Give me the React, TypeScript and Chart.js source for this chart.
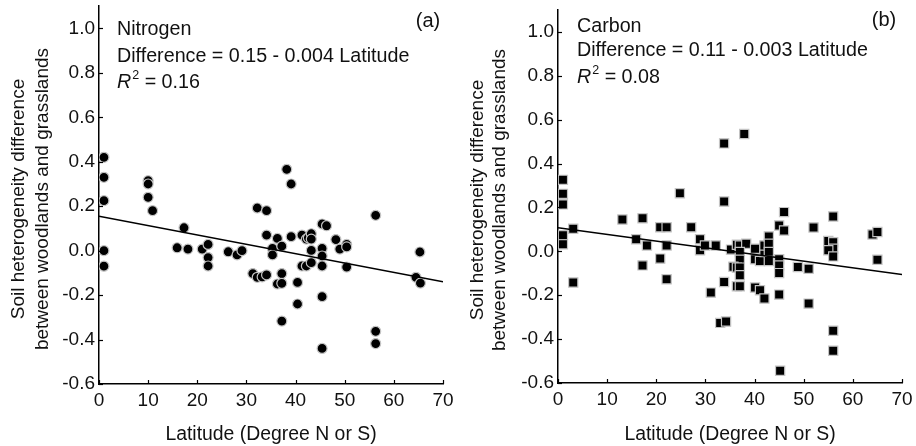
import React, { useEffect, useRef } from "react";
import { Chart, registerables } from "chart.js";

Chart.register(...registerables);

// ---------- data ----------
const X_TICKS = [0, 10, 20, 30, 40, 50, 60, 70];
const Y_TICKS = [-0.6, -0.4, -0.2, 0, 0.2, 0.4, 0.6, 0.8, 1.0];

const N_LAT = [
  1.0, 1.0, 1.0, 1.0, 1.0, 10, 10, 10, 10.9, 15.9, 17.3, 18.1, 21, 22.2, 22.2, 22.2,
  26.3, 28.1, 29.1, 31.3, 32.2, 32.2, 33.2, 34.1, 34.1, 34.1, 35.3, 35.3, 36.3, 36.3,
  37.2, 37.2, 37.2, 37.2, 38.2, 39.1, 39.1, 40.4, 40.4, 41.3, 41.3, 42.2, 42.2, 42.6,
  43.2, 43.2, 43.2, 43.2, 45.4, 46.3, 45.4, 45.4, 45.4, 45.4, 45.4, 48.2, 49, 50.4,
  50.4, 50.4, 56.3, 56.3, 56.3, 64.5, 65.3, 65.4,
];
const N_DIFF = [
  0.42, 0.33, 0.225, 0.0, -0.07, 0.315, 0.3, 0.24, 0.18, 0.013, 0.103, 0.007, 0.007, 0.028, -0.031, -0.069,
  -0.005, -0.019, 0.0, -0.103, -0.12, 0.192, -0.118, 0.18, 0.07, -0.109, 0.01, -0.019, 0.055, -0.15,
  0.02, -0.103, -0.147, -0.317, 0.366, 0.3, 0.063, -0.143, -0.24, 0.07, -0.069, -0.069, 0.052, 0.058,
  0.076, 0.052, 0.001, -0.054, 0.12, 0.112, 0.01, -0.024, -0.069, -0.207, -0.44, 0.05, 0.007, 0.028,
  0.017, -0.074, 0.159, -0.363, -0.418, -0.12, -0.006, -0.146,
];

const C_LAT = [
  1.0, 1.0, 1.0, 1.0, 1.0, 3.1, 3.1, 13.1, 15.9, 17.2, 17.2, 18.1, 20.8, 22.1, 22.1, 20.8, 22.1,
  24.8, 27.1, 28.9, 28.9, 29.9, 32.1, 31.1, 33.8, 33.8, 33.8, 33.0, 34.2, 37.9, 35.2, 36.4, 37,
  38.3, 37, 37, 35.7, 36.4, 37, 37, 36.4, 37, 40.1, 40.1, 40.1, 41.1, 42, 41.1, 42, 42, 42.9,
  42.9, 42.9, 42.9, 45, 46, 46, 45, 45, 45, 45, 45.2, 48.8, 51, 51, 52, 56, 55, 56, 56, 55, 56,
  56, 56, 64, 65, 65,
];
const C_DIFF = [
  0.326, 0.262, 0.214, 0.073, 0.032, 0.103, -0.142, 0.145, 0.055, 0.151, -0.064, 0.027, 0.11, 0.11, 0.027, -0.033, -0.127,
  0.265, 0.11, 0.055, 0.005, 0.027, 0.027, -0.188, 0.492, 0.227, -0.14, -0.326, -0.32, 0.535, 0.008, 0.03, 0.027,
  0.035, -0.003, -0.038, -0.07, -0.074, -0.074, -0.109, -0.159, -0.159, 0.012, -0.036, -0.165, -0.177, -0.215, -0.044, -0.003, 0.027, 0.068,
  0.035, -0.003, -0.044, 0.118, 0.179, 0.095, -0.036, -0.064, -0.099, -0.197, -0.544, -0.071, -0.079, -0.238, 0.109, 0.159, 0.047, 0.042, 0.012, 0.005, -0.023,
  -0.362, -0.453, 0.077, 0.088, -0.038,
];

const FIT_X = [0, 70];
const N_FIT_Y = [0.155, -0.14];
const C_FIT_Y = [0.108, -0.105];

const N_TEXT = ["Nitrogen", "Difference = 0.15 - 0.004 Latitude", "0.16", "(a)"];
const C_TEXT = ["Carbon", "Difference = 0.11 - 0.003 Latitude", "0.08", "(b)"];
const X_TITLE = "Latitude (Degree N or S)";
const Y_TITLE = ["Soil heterogeneity difference", "between woodlands and grasslands"];

// ---------- layout ----------
const FONT = '"Liberation Sans", Arial, Helvetica, sans-serif';
const W = 458;
const H = 446;

type Panel = {
  offset: number;
  plotLeft: number;
  plotRight: number;
  plotTop: number;
  plotBottom: number;
  lat: number[];
  diff: number[];
  fitY: number[];
  text: string[];
  shape: "circle" | "rect";
  radius: number;
  textX: number;
  lineY: number[];
  tagX: number;
  tagY: number;
  yTitleX: number[];
  yTitleCY: number;
};

const PANELS: Panel[] = [
  {
    offset: 0, plotLeft: 99, plotRight: 443, plotTop: 6, plotBottom: 384,
    lat: N_LAT, diff: N_DIFF, fitY: N_FIT_Y, text: N_TEXT, shape: "circle", radius: 5,
    textX: 117, lineY: [30, 57, 83], tagX: 428, tagY: 21, yTitleX: [19, 43], yTitleCY: 199,
  },
  {
    offset: 458, plotLeft: 100, plotRight: 444, plotTop: 10, plotBottom: 383,
    lat: C_LAT, diff: C_DIFF, fitY: C_FIT_Y, text: C_TEXT, shape: "rect", radius: 6.5,
    textX: 119, lineY: [27, 51, 78], tagX: 426, tagY: 20, yTitleX: [20, 42], yTitleCY: 200,
  },
];

function fmtY(v: number) {
  if (Math.abs(v) < 1e-9) return "0.0";
  return v.toFixed(1);
}

function PanelChart({ p }: { p: Panel }) {
  const ref = useRef<HTMLCanvasElement | null>(null);
  useEffect(() => {
    const canvas = ref.current;
    if (!canvas) return;
    const pts = p.lat.map((x, i) => ({ x, y: p.diff[i] }));
    const fit = FIT_X.map((x, i) => ({ x, y: p.fitY[i] }));

    const deco = {
      id: "deco",
      afterDraw(chart: any) {
        const ctx = chart.ctx as CanvasRenderingContext2D;
        const { left, right, bottom } = chart.chartArea;
        const xs = chart.scales.x;
        const ys = chart.scales.y;
        ctx.save();
        // inward tick marks
        ctx.strokeStyle = "#000";
        ctx.lineWidth = 1.2;
        X_TICKS.forEach((v) => {
          const px = Math.round(xs.getPixelForValue(v)) + 0.5;
          ctx.beginPath();
          ctx.moveTo(px, bottom);
          ctx.lineTo(px, bottom - 4);
          ctx.stroke();
        });
        Y_TICKS.forEach((v) => {
          const py = Math.round(ys.getPixelForValue(v)) + 0.5;
          ctx.beginPath();
          ctx.moveTo(left, py);
          ctx.lineTo(left + 4, py);
          ctx.stroke();
        });
        // annotations
        ctx.fillStyle = "#111";
        ctx.textBaseline = "middle";
        ctx.textAlign = "left";
        ctx.font = `19.7px ${FONT}`;
        ctx.fillText(p.text[0], p.textX, p.lineY[0]);
        ctx.fillText(p.text[1], p.textX, p.lineY[1]);
        ctx.font = `italic 19.7px ${FONT}`;
        ctx.fillText("R", p.textX, p.lineY[2]);
        let w = ctx.measureText("R").width + 1;
        ctx.font = `12.5px ${FONT}`;
        ctx.fillText("2", p.textX + w, p.lineY[2] - 7);
        w += ctx.measureText("2").width;
        ctx.font = `19.7px ${FONT}`;
        ctx.fillText(" = " + p.text[2], p.textX + w, p.lineY[2]);
        ctx.textAlign = "center";
        ctx.font = `20px ${FONT}`;
        ctx.fillText(p.text[3], p.tagX, p.tagY);
        ctx.font = `19.4px ${FONT}`;
        ctx.fillText(X_TITLE, (left + right) / 2, 435);
        ctx.font = `19px ${FONT}`;
        Y_TITLE.forEach((t, i) => {
          ctx.save();
          ctx.translate(p.yTitleX[i], p.yTitleCY);
          ctx.rotate(-Math.PI / 2);
          ctx.fillText(t, 0, 0);
          ctx.restore();
        });
        ctx.restore();
      },
    };

    const tickFont = { family: FONT, size: 19 };
    const chart = new Chart(canvas, {
      type: "scatter",
      data: {
        datasets: [
          {
            type: "line",
            data: fit,
            showLine: true,
            borderColor: "#000",
            borderWidth: 1.5,
            pointRadius: 0,
            fill: false,
          } as any,
          {
            data: pts,
            pointStyle: p.shape,
            pointRadius: p.radius,
            backgroundColor: "#000",
            borderColor: "#c4c4c4",
            borderWidth: 1.2,
          },
        ],
      },
      options: {
        responsive: false,
        animation: false,
        events: [],
        layout: { padding: { left: 0, top: p.plotTop, right: W - p.plotRight, bottom: 0 } },
        plugins: { legend: { display: false }, tooltip: { enabled: false } },
        scales: {
          x: {
            type: "linear",
            min: 0,
            max: 70,
            grid: { display: false, drawTicks: false },
            border: { display: true, color: "#000", width: 1.5 },
            ticks: {
              font: tickFont,
              color: "#111",
              padding: 5,
              autoSkip: false,
              maxRotation: 0,
              callback: (v: any) => String(v),
            },
            afterBuildTicks: (s: any) => {
              s.ticks = X_TICKS.map((v) => ({ value: v }));
            },
            afterFit: (s: any) => {
              s.height = H - p.plotBottom;
              s.paddingLeft = 0;
              s.paddingRight = 0;
            },
          },
          y: {
            type: "linear",
            min: -0.6,
            max: 1.1,
            grid: { display: false, drawTicks: false },
            border: { display: true, color: "#000", width: 1.5 },
            ticks: {
              font: tickFont,
              color: "#111",
              padding: 4,
              autoSkip: false,
              callback: (v: any) => fmtY(Number(v)),
            },
            afterBuildTicks: (s: any) => {
              s.ticks = Y_TICKS.map((v) => ({ value: v }));
            },
            afterFit: (s: any) => {
              s.width = p.plotLeft;
              s.paddingTop = 0;
              s.paddingBottom = 0;
            },
          },
        },
      } as any,
      plugins: [deco],
    });
    return () => chart.destroy();
  }, [p]);

  return (
    <canvas
      ref={ref}
      width={W}
      height={H}
      style={{ position: "absolute", left: p.offset, top: 0, width: W, height: H, display: "block" }}
    />
  );
}

export default function App() {
  return (
    <div
      style={{
        position: "absolute",
        left: 0,
        top: 0,
        width: 916,
        height: 446,
        background: "#fff",
        overflow: "hidden",
      }}
    >
      {PANELS.map((p, i) => (
        <PanelChart key={i} p={p} />
      ))}
    </div>
  );
}
